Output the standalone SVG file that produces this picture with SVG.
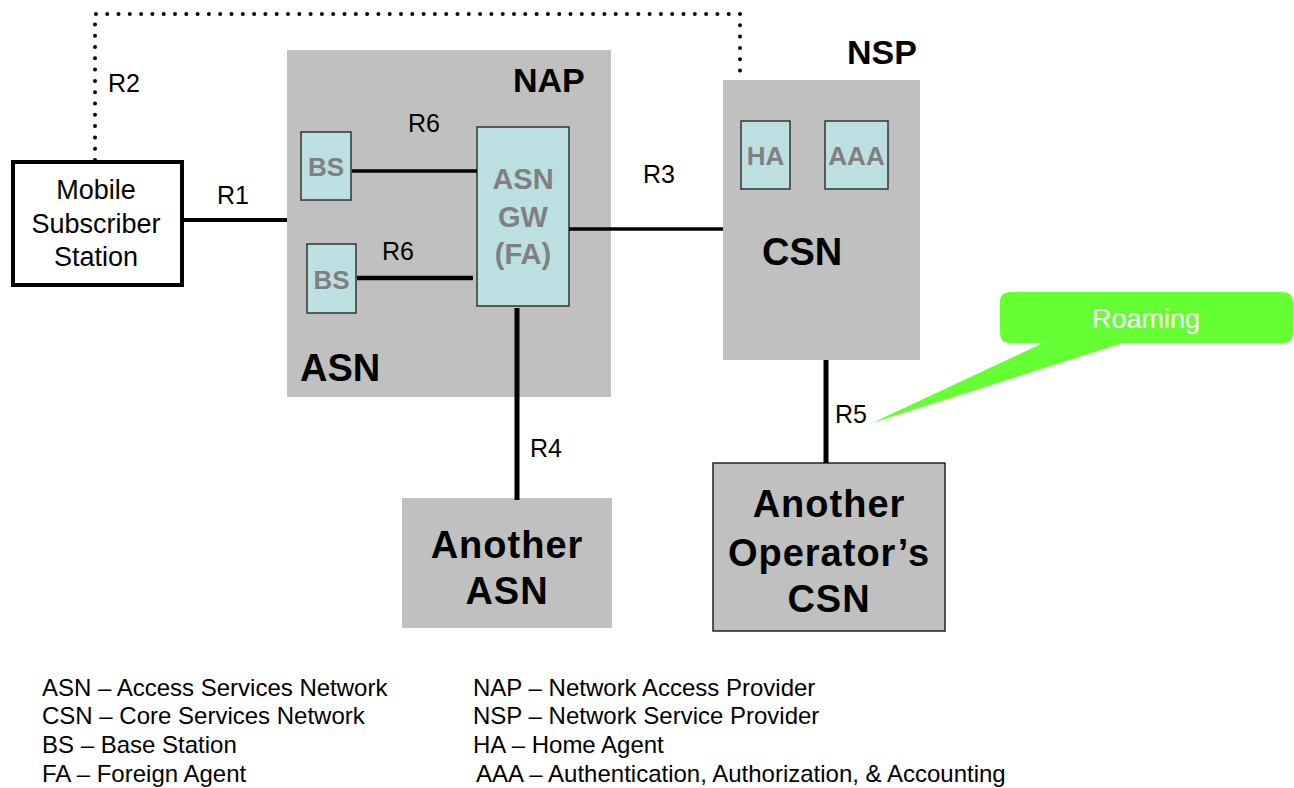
<svg xmlns="http://www.w3.org/2000/svg" width="1294" height="788" viewBox="0 0 1294 788">
<style>
text{font-family:"Liberation Sans",Arial,sans-serif;fill:#000}
.lbl{font-size:25px}
.big{font-size:38px;font-weight:bold}
.sp{letter-spacing:1px}
.hdr{font-size:34px;font-weight:bold}
.inner{font-size:26px;font-weight:bold;fill:#808080;text-anchor:middle}
.gw{font-size:29px}
.leg{font-size:24px}
.gray{fill:#c0c0c0}
.box{fill:#bcdfe2;stroke:#333;stroke-width:1.5}
.ln{stroke:#000;fill:none}
</style>
<rect width="1294" height="788" fill="#fff"/>
<g id="mss">
<rect x="13" y="162" width="169" height="123" fill="#fff" stroke="#000" stroke-width="4"/>
<text x="96" y="199" font-size="27" text-anchor="middle">Mobile</text>
<text x="96" y="233" font-size="27" text-anchor="middle">Subscriber</text>
<text x="96" y="266" font-size="27" text-anchor="middle">Station</text>
</g>
<g id="asn">
<rect x="287" y="50" width="324" height="347" class="gray"/>
<text class="hdr" x="513" y="92">NAP</text>
<text class="big" x="300" y="381">ASN</text>
</g>
<g id="bs1">
<rect x="301" y="132" width="50" height="68" class="box"/>
<text class="inner" x="326" y="176">BS</text>
</g>
<g id="bs2">
<rect x="307" y="244" width="49" height="69" class="box"/>
<text class="inner" x="331.5" y="289">BS</text>
</g>
<g id="asngw">
<rect x="477" y="127" width="92" height="179" class="box"/>
<text class="inner gw" x="523" y="189">ASN</text>
<text class="inner gw" x="523" y="227">GW</text>
<text class="inner gw" x="523" y="264">(FA)</text>
</g>
<g id="csn">
<rect x="723" y="80" width="197" height="280" class="gray"/>
<text class="hdr" x="847" y="64">NSP</text>
<text class="big" x="762" y="265">CSN</text>
</g>
<g id="ha">
<rect x="741" y="121" width="49" height="68" class="box"/>
<text class="inner" x="765.5" y="165">HA</text>
</g>
<g id="aaa">
<rect x="825" y="121" width="63" height="68" class="box"/>
<text class="inner" x="856.5" y="165">AAA</text>
</g>
<g id="another-asn">
<rect x="402" y="498" width="210" height="130" class="gray"/>
<text class="big sp" x="507" y="558" text-anchor="middle">Another</text>
<text class="big sp" x="507" y="604" text-anchor="middle">ASN</text>
</g>
<g id="another-csn">
<rect x="713" y="463" width="232" height="168" class="gray" stroke="#222" stroke-width="1.5"/>
<text class="big sp" x="829" y="517" text-anchor="middle">Another</text>
<text class="big sp" x="829" y="566" text-anchor="middle">Operator’s</text>
<text class="big sp" x="829" y="612" text-anchor="middle">CSN</text>
</g>
<g id="roaming">
<path d="M1010,292 H1283 Q1293,292 1293,302 V333 Q1293,343 1283,343 H1123 L872,423 L1043,343 H1010 Q1000,343 1000,333 V302 Q1000,292 1010,292 Z" fill="#66ff33"/>
<text x="1146" y="328" font-size="27" text-anchor="middle" style="fill:#fff">Roaming</text>
</g>
<g id="connectors">
<path d="M95,160 V14 H740 V78" class="ln" stroke-width="4" stroke-linecap="round" stroke-dasharray="0 11.3"/>
<line x1="183" y1="220" x2="287" y2="220" class="ln" stroke-width="4"/>
<line x1="352" y1="171" x2="477" y2="171" class="ln" stroke-width="3.5"/>
<line x1="357" y1="278" x2="473" y2="278" class="ln" stroke-width="4.5"/>
<line x1="569" y1="229" x2="723" y2="229" class="ln" stroke-width="3.5"/>
<line x1="517" y1="308" x2="517" y2="500" class="ln" stroke-width="5"/>
<line x1="826" y1="360" x2="826" y2="463" class="ln" stroke-width="5"/>
<text class="lbl" x="108" y="92">R2</text>
<text class="lbl" x="217" y="204">R1</text>
<text class="lbl" x="408" y="132">R6</text>
<text class="lbl" x="382" y="260">R6</text>
<text class="lbl" x="643" y="183">R3</text>
<text class="lbl" x="530" y="457">R4</text>
<text class="lbl" x="835" y="423">R5</text>
</g>
<g id="legend">
<text class="leg" x="42" y="696">ASN – Access Services Network</text>
<text class="leg" x="42" y="724">CSN – Core Services Network</text>
<text class="leg" x="42" y="753">BS – Base Station</text>
<text class="leg" x="42" y="782">FA – Foreign Agent</text>
<text class="leg" x="473" y="696">NAP – Network Access Provider</text>
<text class="leg" x="473" y="724">NSP – Network Service Provider</text>
<text class="leg" x="473" y="753">HA – Home Agent</text>
<text class="leg" x="476" y="782">AAA – Authentication, Authorization, &amp; Accounting</text>
</g>
</svg>
